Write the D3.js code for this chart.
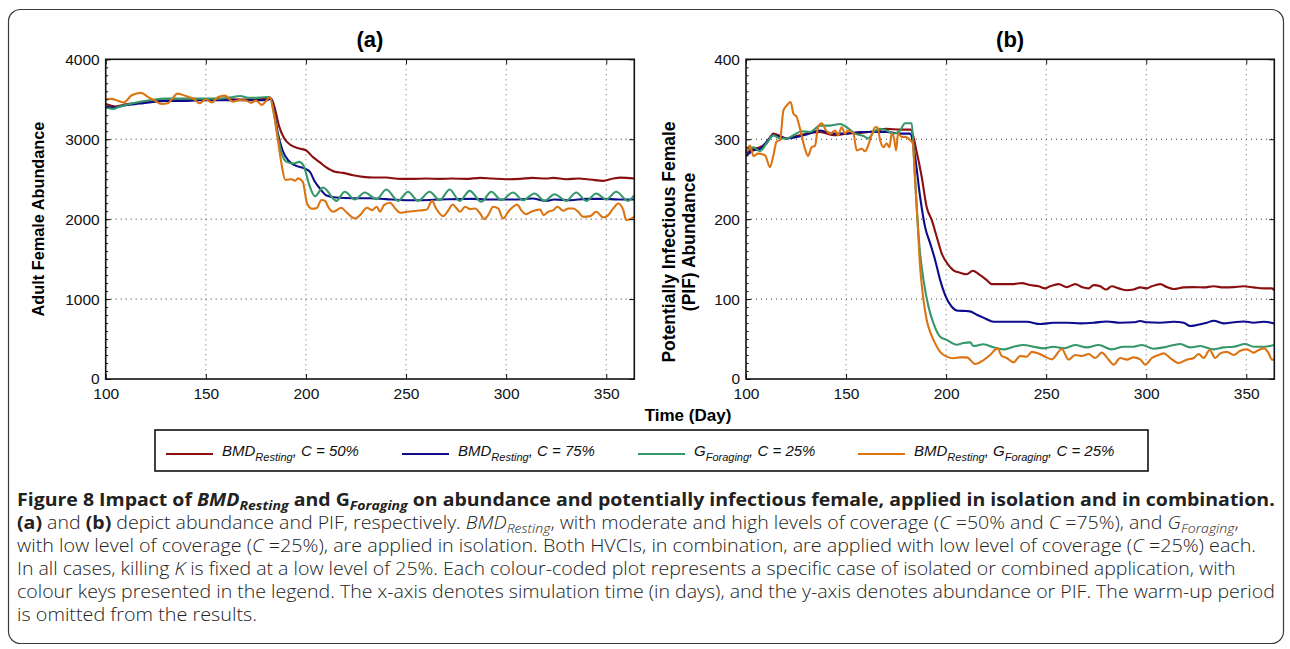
<!DOCTYPE html>
<html><head><meta charset="utf-8">
<script src="https://cdn.jsdelivr.net/npm/d3@7"></script>
<style>body{margin:0;background:#fff}svg{display:block}</style>
</head><body>
<svg id="c" width="1290" height="649"></svg>
<script>
// ---------------- DATA ----------------
const xTicks = [100, 150, 200, 250, 300, 350];
const aYTicks = [0, 1000, 2000, 3000, 4000];
const bYTicks = [0, 100, 200, 300, 400];
const panelTitles = ["(a)", "(b)"];
const xTitle = "Time (Day)";
const aYTitle = ["Adult Female Abundance"];
const bYTitle = ["Potentially Infectious Female", "(PIF) Abundance"];

// panel (a): adult female abundance  [day, value]
const aRed = [[100,3440],[105,3410],[110,3437],[117,3458],[123.5,3480],[130,3487],[138.5,3487],[147,3495],[155,3500],[163.7,3500],[172,3495],[180,3504],[182.6,3508],[184.7,3362],[186.7,3154],[189.2,3008],[192.5,2925],[196.7,2883],[200,2862],[203.4,2779],[207,2710],[210,2650],[214.5,2592],[218.6,2579],[223.6,2550],[228.6,2529],[233.6,2521],[240,2521],[247,2504],[253.6,2504],[260,2508],[267,2504],[273,2508],[280,2504],[287,2517],[293,2508],[300,2500],[307,2504],[313,2517],[320,2508],[323.6,2517],[330,2500],[336,2508],[342,2496],[348.5,2479],[353.5,2508],[357,2520],[364,2508]];
const aBlue = [[100,3410],[104,3396],[110,3425],[117,3446],[123.5,3467],[130,3480],[138.5,3480],[147,3487],[155,3487],[164,3487],[172,3487],[180,3487],[182.5,3508],[184.5,3279],[186,3071],[188.3,2862],[191.1,2737],[194.4,2675],[199.4,2633],[202,2592],[204.5,2467],[207,2383],[210,2300],[215,2271],[223.6,2262],[232,2262],[240,2250],[250,2237],[258,2237],[267,2246],[275,2250],[283,2254],[290,2246],[298,2246],[306,2246],[313,2258],[320,2229],[324,2246],[332,2237],[340,2254],[348,2254],[356,2246],[364,2246]];
const aGreen = [[100,3400],[103.6,3379],[107,3410],[113.7,3450],[122,3487],[130,3508],[140,3508],[150,3508],[157,3508],[163.7,3529],[167,3541],[172,3517],[177,3521],[182,3529],[184,3320],[185.7,3071],[187.9,2820],[190.4,2717],[193.7,2696],[196.7,2717],[198.7,2675],[202,2404],[204.5,2287],[208.6,2396],[215.2,2229],[219.4,2342],[224.4,2246],[229.4,2333],[235.2,2250],[240.2,2371],[246,2229],[251,2342],[256,2229],[261.8,2342],[266.8,2237],[271.8,2371],[276.8,2229],[281.8,2354],[287.6,2217],[292.6,2342],[297.6,2237],[303.4,2333],[308.4,2237],[314.2,2321],[319.2,2229],[324.2,2312],[330,2229],[335,2333],[340,2229],[345,2321],[350,2246],[355,2342],[360.8,2229],[364,2300]];
const aOrange = [[100,3500],[103,3505],[105,3490],[109,3460],[113,3550],[117.7,3580],[121,3530],[124,3490],[128,3440],[131,3450],[136,3570],[140,3540],[143.7,3510],[147,3450],[150,3500],[153,3460],[156,3525],[159.5,3545],[163.6,3470],[167,3490],[170,3485],[172.7,3455],[175,3485],[178,3430],[180,3475],[182,3525],[184,3320],[186,2990],[187.8,2695],[189.7,2490],[192.7,2500],[194.5,2480],[196,2510],[198.4,2470],[200.6,2195],[203,2130],[205.5,2140],[207.7,2240],[209.5,2230],[211.4,2140],[213.5,2092],[217.7,2142],[220,2092],[224.6,2008],[227,2050],[230.5,2142],[233,2113],[235.4,2155],[237,2092],[239,2175],[242,2205],[244.6,2134],[247,2080],[250.5,2092],[255.4,2105],[258.7,2113],[260.4,2120],[263,2229],[265,2134],[268.6,2038],[271,2105],[273.3,2184],[275.3,2134],[277,2092],[279.5,2155],[282,2125],[284.5,2134],[287,2071],[289,2000],[291,2050],[293.5,2155],[296,2134],[298.5,2008],[301,2092],[303.5,2155],[305.5,2184],[307.5,2113],[310,2063],[312.5,2092],[315,2113],[317,2120],[318.7,2050],[321,2092],[323.6,2113],[325.6,2155],[328.6,2105],[331,2134],[333.6,2134],[336,2092],[338.5,2029],[342,2038],[345,2092],[348.5,2021],[351,2050],[353.5,2134],[356,2196],[358.5,2113],[360,1988],[362.5,2008],[364,2029]];

// panel (b): PIF abundance  [day, value]
const bRed = [[100,282],[103.7,288],[107,290],[110.3,295],[113.7,307],[117,304],[120.3,301],[123.7,303],[127,305],[130.3,307],[137,309],[143.7,305],[150.3,307],[157,308],[163.7,310],[170.3,313],[177,312],[182.3,312],[185.3,284],[187.8,253],[190.3,215],[192.8,199],[195.3,178],[197.8,157],[201.2,142.5],[203.7,136],[207,133],[210.3,131],[213.3,135.4],[217,130],[220.3,123.75],[222.8,118.75],[228.7,118.75],[233.7,118.75],[237.8,120],[242,117.5],[246.2,116],[249.5,113.4],[252,116],[256.2,118.75],[260.3,115],[264.5,118.75],[267.8,115],[271.2,113.4],[273.7,117.5],[277,116],[280,112],[282.8,116],[286.2,113.4],[290.3,111],[293.7,112],[297,114.6],[300.3,113.4],[302.8,116],[307,118.75],[310.3,115],[313.7,112.6],[318.7,114.6],[323.7,115],[328.7,114.6],[333.7,116],[338.7,114.6],[343.7,115],[348.7,116],[353.7,114.6],[358.7,113.4],[362.8,113.4],[364,111]];
const bBlue = [[100,279],[103.7,286],[107,288],[110.3,297],[113.7,305],[117,303],[120.3,301],[123.7,302],[130.3,306],[137,311],[143.7,307],[150.3,307],[157,309],[163.7,309],[170.3,309],[177,307],[182,307],[184.5,278],[187,228],[189.5,190],[192,170],[194.5,149],[197,124],[199.5,105],[202.8,90.4],[206,85.4],[210.3,85],[212,84.6],[215.3,80.4],[219.5,75.8],[223.7,71.6],[228.7,71.6],[233.7,71.6],[240.3,71.6],[247,68.75],[253.7,70.4],[260.3,70.4],[267,69.6],[273.7,70.4],[280.3,72],[287,70.4],[293.7,71],[297,72.5],[300.3,71],[307,70.4],[313.7,71.6],[318.7,70.4],[322,66.25],[325.3,67.5],[330.3,70.4],[333.7,72.9],[338.7,69.6],[343.7,71],[348.7,72],[353.7,70.4],[358.7,71.6],[364,69.6]];
const bGreen = [[100,286],[103.7,290],[107,285],[110.3,295],[113.7,305],[117,301],[120.3,301],[123.7,305],[127.8,310],[132,309],[137,317],[142,317],[147,319],[150.3,315],[154.5,307],[158.7,304],[161.2,301],[163.7,309],[167,313],[170.3,311],[173.7,307],[177,311],[179.5,320],[182.8,320],[184,273.75],[185.3,215],[187,157],[188.7,124],[191.2,90.4],[193.7,69.6],[197,53],[200.3,49],[205.3,42.9],[208.7,45],[212,45.8],[213.7,41.25],[218.7,43.4],[223.7,39.6],[228.7,37.1],[233.7,40.4],[238.7,42.5],[243.7,40.4],[248.7,38.3],[253.7,40.4],[258.7,38.3],[264.5,42.5],[270.3,39.6],[276.2,42.5],[282.8,37.1],[288.7,40.4],[293.7,40.4],[297.8,42.5],[303.7,37.9],[308.7,39.6],[313.7,42.5],[317,43.75],[322,39.6],[327,41.25],[333.7,37.1],[338.7,39.6],[343.7,40.4],[349.5,43.75],[353.7,40.4],[358.7,40.4],[364,42.5]];
const bOrange = [[100,284],[102,292],[103.7,279],[106,282],[109.5,280],[112,265],[113.7,280],[115.3,297],[117,299],[118.7,336],[120.3,342],[122.3,346.6],[123.7,332],[125.3,328],[127,313],[129.5,288],[131,279],[132.8,290],[134.5,292],[136,315],[137.8,320],[140,311],[142.3,307],[144.5,311],[146,305],[147.8,315],[149.5,307],[151,311],[153.7,307],[155.3,286],[157.8,288],[159.5,285],[161,292],[162.8,305],[164.5,315],[165.7,315],[167,299],[168.7,290],[170.3,295],[171.7,290],[172.8,307],[174,301],[175,286],[176,307],[177.8,303],[179.5,303],[182,299],[183.3,295],[184.5,249],[185.7,199],[187,140.5],[188.3,107],[190.3,73.75],[192.3,57],[194.5,44.6],[197,34],[200.3,28],[203.7,26],[207,27],[210.3,27.1],[214.5,18.75],[218.7,23.75],[222,30],[225.7,38.3],[227.8,28.75],[230.3,26.25],[233.7,20.8],[237,28.75],[240.3,27.9],[242.8,34],[246.2,32],[249.5,27.9],[252.8,24.6],[257.8,37.5],[261.2,24.2],[264.5,30],[267.8,28.75],[271.2,31.25],[274.5,26.25],[277.8,33],[281.2,24.2],[283.7,18],[287,26.25],[290.3,24.2],[293.7,27],[297,24.6],[299.5,18],[302.8,26.25],[306.2,30],[308.7,32],[312,26.25],[316.2,20],[320.3,24.2],[323.7,26.25],[326.2,31.25],[328.7,26.25],[331.7,36.25],[334.5,26.25],[337,32],[340.3,34],[343.7,30],[347,35.4],[350.3,37.1],[353.7,33],[356.2,36.25],[359,38.3],[361.2,32],[362.8,24.2],[364,24.2]];

// legend entries: segments [text, style]
const legendItems = [
  [["BMD",""],["Resting","sub"],[", ",""],["C",""],[" = 50%",""]],
  [["BMD",""],["Resting","sub"],[", ",""],["C",""],[" = 75%",""]],
  [["G",""],["Foraging","sub"],[", ",""],["C",""],[" = 25%",""]],
  [["BMD",""],["Resting","sub"],[", ",""],["G",""],["Foraging","sub"],[", ",""],["C",""],[" = 25%",""]]
];

// caption lines: segments [text, style]  b=bold, i=italic, s=italic subscript, n=normal
const captionLines = [
  [["Figure 8 Impact of ","b"],["BMD","bi"],["Resting","bs"],[" and ","b"],["G","b"],["Foraging","bs"],[" on abundance and potentially infectious female, applied in isolation and in combination.","b"]],
  [["(a)","b"],[" and ","n"],["(b)","b"],[" depict abundance and PIF, respectively. ","n"],["BMD","i"],["Resting","s"],[", with moderate and high levels of coverage (","n"],["C","i"],[" =50% and ","n"],["C","i"],[" =75%), and ","n"],["G","i"],["Foraging","s"],[",","n"]],
  [["with low level of coverage (","n"],["C","i"],[" =25%), are applied in isolation. Both HVCIs, in combination, are applied with low level of coverage (","n"],["C","i"],[" =25%) each.","n"]],
  [["In all cases, killing ","n"],["K","i"],[" is fixed at a low level of 25%. Each colour-coded plot represents a specific case of isolated or combined application, with","n"]],
  [["colour keys presented in the legend. The x-axis denotes simulation time (in days), and the y-axis denotes abundance or PIF. The warm-up period","n"]],
  [["is omitted from the results.","n"]]
];

// ---------------- LAYOUT / STYLE ----------------
const colors = ["#8a0f0f", "#0c0c8c", "#35976a", "#db7412"];
const axFont = "'Liberation Sans', Arial, Helvetica, sans-serif";
const capFont = "'Open Sans', 'Noto Sans', sans-serif";
const svg = d3.select("#c");
svg.append("rect").attr("width",1290).attr("height",649).attr("fill","#fff");

// outer frame
svg.append("rect").attr("x",8.5).attr("y",9.5).attr("width",1275).attr("height",634)
  .attr("rx",12).attr("fill","none").attr("stroke","#3a3a3a").attr("stroke-width",1.2);

const yTop = 59.3, yBot = 379;
const panels = [
  {x0:105.7, x1:634.3, ymax:4000, yTicks:aYTicks, minorStep:100, series:[aRed,aBlue,aGreen,aOrange], title:panelTitles[0]},
  {x0:746, x1:1274.3, ymax:400, yTicks:bYTicks, minorStep:10, series:[bRed,bBlue,bGreen,bOrange], title:panelTitles[1]}
];

panels.forEach((p, pi) => {
  const x = d3.scaleLinear().domain([100, 364]).range([p.x0, p.x1]);
  const y = d3.scaleLinear().domain([0, p.ymax]).range([yBot, yTop]);
  const g = svg.append("g");

  // grid
  g.selectAll(".vg").data(xTicks.filter(t => t > 100)).join("line")
    .attr("x1", d => x(d)).attr("x2", d => x(d)).attr("y1", yTop).attr("y2", yBot)
    .attr("stroke", "#666").attr("stroke-width", 1).attr("stroke-dasharray", "1,4");
  g.selectAll(".hg").data(p.yTicks.filter(t => t > 0 && t < p.ymax)).join("line")
    .attr("x1", p.x0).attr("x2", p.x1).attr("y1", d => y(d)).attr("y2", d => y(d))
    .attr("stroke", "#333").attr("stroke-width", 1).attr("stroke-dasharray", "1,4");

  // lines
  const line = d3.line().x(d => x(d[0])).y(d => y(d[1])).curve(d3.curveMonotoneX);
  p.series.forEach((s, si) => {
    g.append("path").datum(s).attr("d", line).attr("fill", "none")
      .attr("stroke", colors[si]).attr("stroke-width", 2.1).attr("stroke-linejoin","round");
  });

  // minor ticks
  const minor = d3.range(0, p.ymax + 1e-9, p.minorStep);
  g.append("g").attr("transform", `translate(${p.x0},0)`)
    .call(d3.axisLeft(y).tickValues(minor).tickSize(-2.5).tickFormat(""))
    .call(a => a.select(".domain").remove())
    .selectAll("line").attr("stroke", "#222");

  // axes
  const fmt = d3.format("d");
  const left = g.append("g").attr("transform", `translate(${p.x0},0)`)
    .call(d3.axisLeft(y).tickValues(p.yTicks).tickSize(-5).tickPadding(6).tickFormat(fmt));
  const bot = g.append("g").attr("transform", `translate(0,${yBot})`)
    .call(d3.axisBottom(x).tickValues(xTicks).tickSize(-5).tickPadding(9).tickFormat(fmt));
  g.append("g").attr("transform", `translate(${p.x1},0)`)
    .call(d3.axisRight(y).tickValues(p.yTicks).tickSize(-5).tickFormat(""));
  g.append("g").attr("transform", `translate(0,${yTop})`)
    .call(d3.axisTop(x).tickValues(xTicks).tickSize(-5).tickFormat(""));
  g.selectAll(".domain").remove();
  g.selectAll(".tick line").attr("stroke", "#111");
  [left, bot].forEach(a => a.selectAll("text").attr("font-family", axFont).attr("font-size", 15.5).attr("fill", "#111"));

  // frame
  g.append("rect").attr("x", p.x0).attr("y", yTop).attr("width", p.x1 - p.x0).attr("height", yBot - yTop)
    .attr("fill", "none").attr("stroke", "#111").attr("stroke-width", 1.6);

  // title
  svg.append("text").attr("x", (p.x0 + p.x1) / 2).attr("y", 47).attr("text-anchor", "middle")
    .attr("font-family", axFont).attr("font-weight", "bold").attr("font-size", 22).text(p.title);
});

// y titles
svg.append("text").attr("transform", "translate(43.5,219) rotate(-90)").attr("text-anchor", "middle")
  .attr("font-family", axFont).attr("font-weight", "bold").attr("font-size", 16.3).text(aYTitle[0]);
bYTitle.forEach((t, i) => {
  svg.append("text").attr("transform", `translate(${675 + i * 20},242) rotate(-90)`).attr("text-anchor", "middle")
    .attr("font-family", axFont).attr("font-weight", "bold").attr("font-size", 17.5).text(t);
});

// x title
svg.append("text").attr("x", 688).attr("y", 421).attr("text-anchor", "middle")
  .attr("font-family", axFont).attr("font-weight", "bold").attr("font-size", 17).text(xTitle);

// legend
svg.append("rect").attr("x", 155).attr("y", 430).attr("width", 993).attr("height", 41)
  .attr("fill", "#fff").attr("stroke", "#111").attr("stroke-width", 1.6);
const legX = [166, 402, 638, 858];
legendItems.forEach((item, i) => {
  svg.append("line").attr("x1", legX[i]).attr("x2", legX[i] + 47).attr("y1", 454).attr("y2", 454)
    .attr("stroke", colors[i]).attr("stroke-width", 2.2);
  const t = svg.append("text").attr("x", legX[i] + 56).attr("y", 456)
    .attr("font-family", axFont).attr("font-style", "italic").attr("font-size", 15).attr("fill", "#111");
  let down = false;
  item.forEach(([s, st]) => {
    const ts = t.append("tspan").text(s);
    if (st === "sub" && !down) { ts.attr("dy", 5).attr("font-size", 11); down = true; }
    else if (st !== "sub" && down) { ts.attr("dy", -5); down = false; }
    else if (st === "sub") { ts.attr("font-size", 11); }
  });
});

// caption
const capBase = [506, 529, 552, 575, 598, 621];
const capRight = [1276, 1240, 1257, 1237, 1276, 257];
captionLines.forEach((segs, i) => {
  const t = svg.append("text").attr("font-family", capFont).attr("font-size", 18).attr("fill", "#222");
  let down = false;
  segs.forEach(([s, st]) => {
    const ts = t.append("tspan").text(s);
    if (st.includes("b")) ts.attr("font-weight", "bold"); else ts.attr("font-weight", 300);
    if (st.includes("i") || st.includes("s")) ts.attr("font-style", "italic");
    if (st.includes("s")) { ts.attr("font-size", 13); if (!down) { ts.attr("dy", 4); down = true; } }
    else if (down) { ts.attr("dy", -4); down = false; }
  });
  const w = t.node().getComputedTextLength();
  const sc = (capRight[i] - 17) / w;
  t.attr("transform", `translate(17,${capBase[i]}) scale(${sc},1)`);
});
</script>
</body></html>
